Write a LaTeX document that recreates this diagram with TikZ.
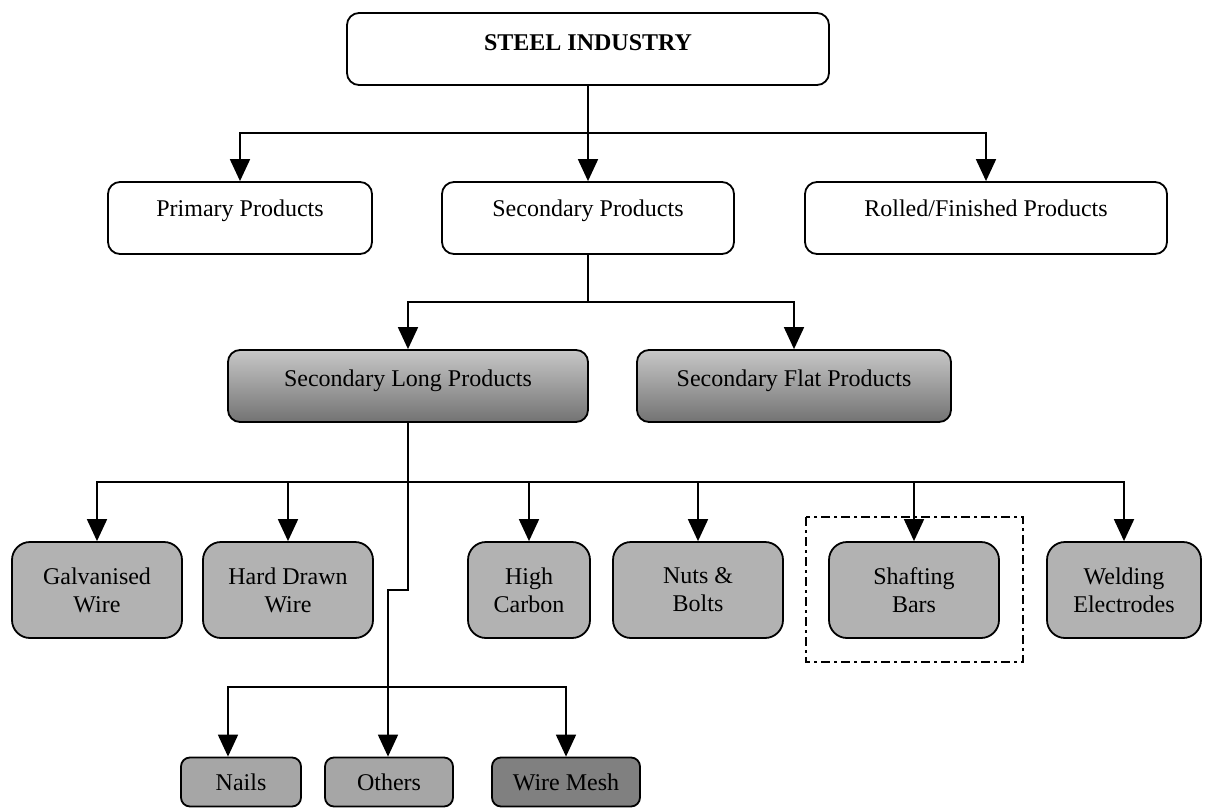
\documentclass[tikz,border=0pt]{standalone}
\usepackage{fontspec}
\setmainfont{Liberation Serif}
\usetikzlibrary{arrows.meta}
\begin{document}
\begin{tikzpicture}[x=1pt,y=-1pt,
  box/.style={draw, line width=1.8pt, rounded corners=12pt, inner sep=0pt, align=center, font=\fontsize{24}{28}\selectfont},
  wbox/.style={box, fill=white, minimum height=72pt, text height=17pt, text depth=21pt},
  grad/.style={box, top color=black!22, bottom color=black!55, minimum height=72pt, text height=17pt, text depth=17pt},
  gbox/.style={box, fill=black!30, rounded corners=18pt, minimum height=96pt},
  sbox/.style={box, fill=black!35, rounded corners=9pt, minimum height=49pt},
  link/.style={line width=1.8pt},
  arr/.style={link, -{Triangle[width=20pt,length=22pt]}},
  focus/.style={line width=1.8pt, dash pattern=on 9pt off 4pt on 3pt off 4pt}
]
\useasboundingbox (0,0) rectangle (1205,809);

% level 1
\node[wbox, font=\fontsize{24}{28}\selectfont\bfseries, minimum width=482pt, text depth=15pt] (steel) at (588,49) {STEEL INDUSTRY};

% level 2
\node[wbox, minimum width=264pt] (prim) at (240,218) {Primary Products};
\node[wbox, minimum width=292pt] (sec) at (588,218) {Secondary Products};
\node[wbox, minimum width=362pt] (roll) at (986,218) {Rolled/Finished Products};

% level 3
\node[grad, minimum width=360pt] (slp) at (408,386) {Secondary Long Products};
\node[grad, minimum width=314pt] (sfp) at (794,386) {Secondary Flat Products};

% level 4
\node[gbox, minimum width=170pt] (galv) at (97,590) {Galvanised\\Wire};
\node[gbox, minimum width=170pt] (hard) at (288,590) {Hard Drawn\\Wire};
\node[gbox, minimum width=122pt] (high) at (529,590) {High\\Carbon};
\node[gbox, minimum width=170pt] (nuts) at (698,590) {Nuts \&\\Bolts};
\node[gbox, minimum width=170pt] (shaft) at (914,590) {Shafting\\Bars};
\node[gbox, minimum width=154pt] (weld) at (1124,590) {Welding\\Electrodes};

% level 5
\node[sbox, minimum width=120pt] (nails) at (241,782) {Nails};
\node[sbox, minimum width=128pt] (others) at (389,782) {Others};
\node[sbox, fill=black!50, minimum width=148pt] (mesh) at (566,782) {Wire Mesh};

% highlight frame
\draw[focus] (806,517) rectangle (1023,662);

% connectors
\coordinate (bus1) at (588,133);
\draw[link] (steel.south) -- (bus1);
\draw[arr] (bus1) -| (prim.north);
\draw[arr] (bus1) -- (sec.north);
\draw[arr] (bus1) -| (roll.north);

\coordinate (bus2) at (588,302);
\draw[link] (sec.south) -- (bus2);
\draw[arr] (bus2) -| (slp.north);
\draw[arr] (bus2) -| (sfp.north);

\coordinate (bus3) at (408,482);
\draw[link] (slp.south) -- (bus3);
\draw[arr] (bus3) -| (galv.north);
\draw[arr] (bus3) -| (hard.north);
\draw[arr] (bus3) -| (high.north);
\draw[arr] (bus3) -| (nuts.north);
\draw[arr] (bus3) -| (shaft.north);
\draw[arr] (bus3) -| (weld.north);

\coordinate (jog1) at (408,590);
\coordinate (jog2) at (388,590);
\coordinate (bus4) at (388,687);
\draw[link] (bus3) -- (jog1) -- (jog2) -- (bus4);
\draw[arr] (bus4) -| ([xshift=-13pt]nails.north);
\draw[arr] (bus4) -- (bus4 |- others.north);
\draw[arr] (bus4) -| (mesh.north);
\end{tikzpicture}
\end{document}
